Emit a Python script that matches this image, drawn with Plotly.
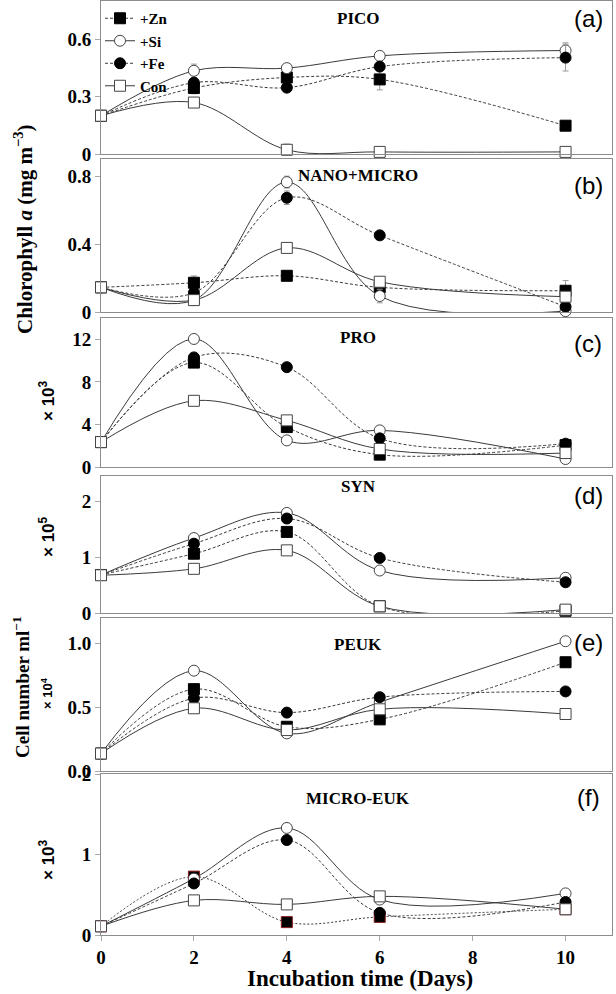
import plotly.graph_objects as go

# ---------------- data ----------------
days = [0, 2, 4, 6, 10]
series_names = ["+Zn", "+Si", "+Fe", "Con"]

pico_zn = [0.20, 0.345, 0.40, 0.39, 0.148]
pico_si = [0.20, 0.435, 0.449, 0.513, 0.541]
pico_fe = [0.20, 0.373, 0.347, 0.457, 0.504]
pico_con = [0.20, 0.269, 0.022, 0.011, 0.011]
pico_zn_err = [0, 0.03, 0, 0.055, 0]
pico_si_err = [0, 0.035, 0, 0, 0.04]
pico_fe_err = [0, 0, 0, 0, 0.07]
pico_con_err = [0, 0, 0.03, 0, 0]

nm_zn = [0.145, 0.172, 0.213, 0.145, 0.125]
nm_si = [0.145, 0.07, 0.764, 0.094, 0.005]
nm_fe = [0.145, 0.113, 0.672, 0.451, 0.031]
nm_con = [0.145, 0.07, 0.377, 0.178, 0.09]
nm_zn_err = [0, 0.04, 0, 0, 0.06]
nm_si_err = [0, 0, 0.035, 0.04, 0]
nm_fe_err = [0, 0, 0.04, 0, 0]
nm_con_err = [0, 0, 0, 0, 0]

pro_zn = [2.34, 9.81, 3.75, 1.16, 2.05]
pro_si = [2.34, 12.03, 2.5, 3.44, 0.75]
pro_fe = [2.34, 10.3, 9.38, 2.69, 2.19]
pro_con = [2.34, 6.22, 4.38, 1.69, 1.31]

syn_zn = [0.68, 1.06, 1.45, 0.12, 0.04]
syn_si = [0.68, 1.34, 1.79, 0.76, 0.63]
syn_fe = [0.68, 1.24, 1.69, 0.985, 0.55]
syn_con = [0.675, 0.79, 1.12, 0.12, 0.06]

peuk_zn = [0.137, 0.642, 0.347, 0.405, 0.853]
peuk_si = [0.137, 0.787, 0.295, 0.54, 1.018]
peuk_fe = [0.137, 0.571, 0.458, 0.579, 0.624]
peuk_con = [0.137, 0.492, 0.321, 0.484, 0.447]

meuk_zn = [0.108, 0.725, 0.16, 0.225, 0.32]
meuk_si = [0.108, 0.70, 1.33, 0.44, 0.517]
meuk_fe = [0.108, 0.64, 1.18, 0.275, 0.41]
meuk_con = [0.108, 0.43, 0.38, 0.48, 0.32]

panel_titles = ["PICO", "NANO+MICRO", "PRO", "SYN", "PEUK", "MICRO-EUK"]
panel_letters = ["(a)", "(b)", "(c)", "(d)", "(e)", "(f)"]
y_ranges = [[0, 0.8], [0, 0.9], [0, 14], [0, 2.45], [0, 1.2], [0, 2]]
y_tickvals = [[0, 0.3, 0.6], [0, 0.4, 0.8], [0, 4, 8, 12], [0, 1, 2], [0, 0.5, 1.0], [0, 1, 2]]
y_ticktext = [["0", "0.3", "0.6"], ["0", "0.4", "0.8"], ["0", "4", "8", "12"],
              ["0", "1", "2"], ["0.0", "0.5", "1.0"], ["0", "1", "2"]]
x_tickvals = [0, 2, 4, 6, 8, 10]

panels = [
    [pico_zn, pico_si, pico_fe, pico_con],
    [nm_zn, nm_si, nm_fe, nm_con],
    [pro_zn, pro_si, pro_fe, pro_con],
    [syn_zn, syn_si, syn_fe, syn_con],
    [peuk_zn, peuk_si, peuk_fe, peuk_con],
    [meuk_zn, meuk_si, meuk_fe, meuk_con],
]
panel_errs = [
    [pico_zn_err, pico_si_err, pico_fe_err, pico_con_err],
    [nm_zn_err, nm_si_err, nm_fe_err, nm_con_err],
    None, None, None, None,
]

# ---------------- layout geometry (pixels) ----------------
W, H = 616, 994
ML, MR, MT, MB = 101, 4, 1, 59
PW, PH = W - ML - MR, H - MT - MB
panel_px = [(1, 154), (159, 312), (318, 467), (476, 613), (618, 771), (774, 935)]


def py(ypix):
    return (H - MB - ypix) / PH


def pxx(xpix):
    return (xpix - ML) / PW


SERIF = "Liberation Serif"
SANS = "Liberation Sans"
LINE_C = "#3a3a3a"
FRAME_C = "#8c8c8c"

styles = [
    dict(dash="3px,2px", symbol="square", fill="black", edge="black"),
    dict(dash="solid", symbol="circle", fill="white", edge="#444444"),
    dict(dash="3px,2px", symbol="circle", fill="black", edge="black"),
    dict(dash="solid", symbol="square", fill="white", edge="#444444"),
]

fig = go.Figure()

for p in range(6):
    xa = "x" if p == 0 else f"x{p+1}"
    ya = "y" if p == 0 else f"y{p+1}"
    for s in range(4):
        st = styles[s]
        dash = st["dash"]
        edge = st["edge"]
        if p == 5 and s == 0:
            dash = "2px,2px"
            edge = "#8b1a1a"
        err = None
        if panel_errs[p] is not None and any(panel_errs[p][s]):
            err = dict(type="data", array=panel_errs[p][s], color="#9a9a9a",
                       thickness=1, width=3)
        fig.add_trace(go.Scatter(
            x=days, y=panels[p][s], xaxis=xa, yaxis=ya,
            mode="lines+markers", name=series_names[s],
            showlegend=(p == 0),
            line=dict(color=LINE_C, width=1, dash=dash, shape="spline", smoothing=1),
            marker=dict(symbol=st["symbol"], size=11, color=st["fill"],
                        line=dict(color=edge, width=1)),
            error_y=err, cliponaxis=False,
        ))

layout = dict(
    width=W, height=H,
    margin=dict(l=ML, r=MR, t=MT, b=MB, autoexpand=False),
    paper_bgcolor="white", plot_bgcolor="white",
    showlegend=True,
    legend=dict(x=pxx(100), y=py(2), xanchor="left", yanchor="top",
                bgcolor="rgba(0,0,0,0)", tracegroupgap=0, itemwidth=30,
                font=dict(family=SERIF, size=15, color="black", weight="bold")),
)

for p in range(6):
    top, bot = panel_px[p]
    xk = "xaxis" if p == 0 else f"xaxis{p+1}"
    yk = "yaxis" if p == 0 else f"yaxis{p+1}"
    ya = "y" if p == 0 else f"y{p+1}"
    xa = "x" if p == 0 else f"x{p+1}"
    last = (p == 5)
    layout[xk] = dict(
        domain=[0, 1], anchor=ya, range=[0, 11], automargin=False,
        tickvals=x_tickvals, showticklabels=last,
        ticks="outside" if last else "", ticklen=5, tickcolor="#aaaaaa",
        showgrid=False, zeroline=False, showline=True, mirror=True,
        linecolor=FRAME_C, linewidth=1,
        tickfont=dict(family=SERIF, size=19, color="black", weight="bold"),
    )
    if p > 0:
        layout[xk]["matches"] = "x"
    layout[yk] = dict(
        domain=[py(bot), py(top)], anchor=xa, range=y_ranges[p], automargin=False,
        tickvals=y_tickvals[p], ticktext=y_ticktext[p],
        ticks="outside", ticklen=5, tickcolor="#aaaaaa",
        showgrid=False, zeroline=False, showline=True, mirror=True,
        linecolor=FRAME_C, linewidth=1,
        tickfont=dict(family=SERIF, size=19, color="black", weight="bold"),
    )

fig.update_layout(**layout)

annots = []
title_y = [18, 176, 338, 487, 644, 798]
letter_y = [18, 185, 343, 495, 642, 797]
for p in range(6):
    annots.append(dict(text=panel_titles[p], xref="paper", yref="paper",
                       x=pxx(358), y=py(title_y[p]), xanchor="center", yanchor="middle",
                       showarrow=False,
                       font=dict(family=SERIF, size=17, color="black", weight="bold")))
    annots.append(dict(text=panel_letters[p], xref="paper", yref="paper",
                       x=pxx(588), y=py(letter_y[p]), xanchor="center", yanchor="middle",
                       showarrow=False,
                       font=dict(family=SANS, size=24, color="black")))

# multiplier labels
mult = [("× 10<sup>3</sup>", 401, 17), ("× 10<sup>5</sup>", 537, 17),
        ("× 10<sup>4</sup>", 693, 13), ("× 10<sup>3</sup>", 860, 17)]
for txt, yc, sz in mult:
    annots.append(dict(text=txt, xref="paper", yref="paper", x=pxx(47), y=py(yc),
                       xanchor="center", yanchor="middle", textangle=-90, showarrow=False,
                       font=dict(family=SANS, size=sz, color="black", weight="bold")))

annots.append(dict(text="Chlorophyll <i>a</i> (mg m<sup>−3</sup>)", xref="paper", yref="paper",
                   x=pxx(24), y=py(229), xanchor="center", yanchor="middle",
                   textangle=-90, showarrow=False,
                   font=dict(family=SERIF, size=21, color="black", weight="bold")))
annots.append(dict(text="Cell number ml<sup>−1</sup>", xref="paper", yref="paper",
                   x=pxx(21), y=py(687), xanchor="center", yanchor="middle",
                   textangle=-90, showarrow=False,
                   font=dict(family=SERIF, size=19, color="black", weight="bold")))
annots.append(dict(text="Incubation time (Days)", xref="paper", yref="paper",
                   x=pxx(360), y=py(979), xanchor="center", yanchor="middle",
                   showarrow=False,
                   font=dict(family=SERIF, size=23, color="black", weight="bold")))

fig.update_layout(annotations=annots)
fig.write_html("out.html",
               config={"displayModeBar": False},
               post_script="document.body.style.margin='0';document.body.style.padding='0';")
